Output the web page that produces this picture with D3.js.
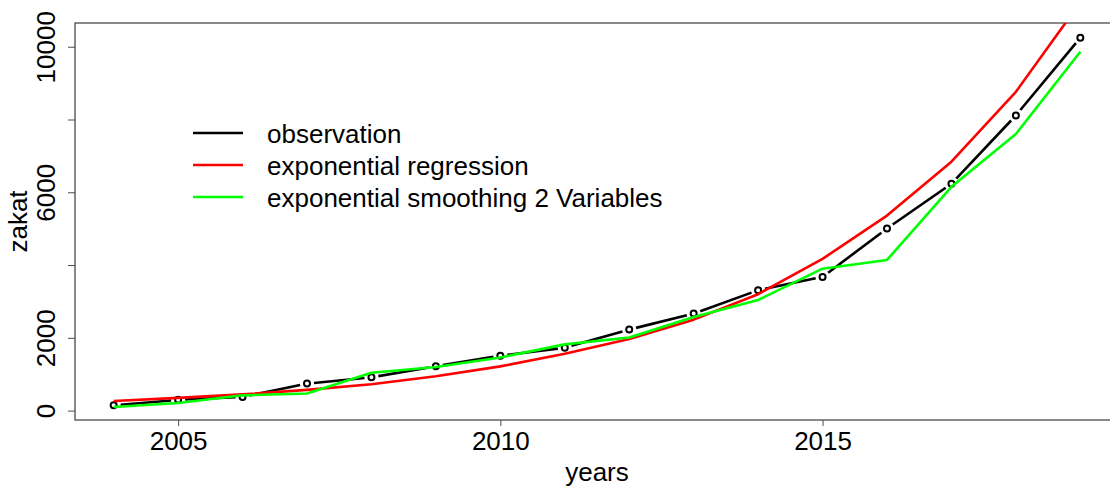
<!DOCTYPE html>
<html>
<head>
<meta charset="utf-8">
<script src="https://cdn.jsdelivr.net/npm/d3@7"></script>
<style>
  html, body { margin: 0; padding: 0; background: #fff; }
  svg { display: block; font-family: "Liberation Sans", Arial, sans-serif; }
</style>
</head>
<body>
<svg id="chart" width="1110" height="488"></svg>
<script>
// Annual zakat collections and two fitted series
const years = [2004, 2005, 2006, 2007, 2008, 2009, 2010, 2011, 2012, 2013, 2014, 2015, 2016, 2017, 2018, 2019];
const observation = [146, 295, 374, 742, 915, 1218, 1510, 1728, 2227, 2667, 3308, 3675, 5005, 6233, 8113, 10248];
const expRegression = [265, 350, 445, 570, 725, 945, 1215, 1560, 1970, 2500, 3200, 4170, 5360, 6840, 8760, 11220];
const expSmoothing = [100, 210, 420, 470, 1040, 1200, 1460, 1820, 2010, 2570, 3040, 3900, 4140, 6150, 7600, 9860];

const xTicks = [2005, 2010, 2015];
const yTicks = [0, 2000, 4000, 6000, 8000, 10000];
const yTickLabels = ["0", "2000", "", "6000", "", "10000"];

const legendLabels = ["observation", "exponential regression", "exponential smoothing 2 Variables"];
const seriesColors = ["#000000", "#ff0000", "#00ff00"];

const svg = d3.select("#chart");
const plot = { left: 75, right: 1119, top: 23, bottom: 420 };

// R-style 4% padding around the data range
const xExt = d3.extent(years);
const xPad = (xExt[1] - xExt[0]) * 0.04;
const yExt = d3.extent(observation);
const yPad = (yExt[1] - yExt[0]) * 0.04;

const x = d3.scaleLinear().domain([xExt[0] - xPad, xExt[1] + xPad]).range([plot.left, plot.right]);
const y = d3.scaleLinear().domain([yExt[0] - yPad, yExt[1] + yPad]).range([plot.bottom, plot.top]);

svg.append("defs").append("clipPath").attr("id", "plotClip")
  .append("rect")
  .attr("x", plot.left).attr("y", plot.top)
  .attr("width", plot.right - plot.left).attr("height", plot.bottom - plot.top);

const axisColor = "#4a4a4a";

// Axes
const xAxis = svg.append("g")
  .attr("transform", `translate(0,${plot.bottom})`)
  .call(d3.axisBottom(x).tickValues(xTicks).tickFormat(d3.format("d")).tickSize(6).tickPadding(6));
xAxis.select(".domain").remove();
xAxis.selectAll("line").attr("stroke", axisColor);
xAxis.selectAll("text").attr("font-size", 26).attr("fill", "#000")
  .attr("font-family", "Liberation Sans, Arial, sans-serif");

const yAxis = svg.append("g")
  .attr("transform", `translate(${plot.left},0)`)
  .call(d3.axisLeft(y).tickValues(yTicks).tickFormat((d, i) => yTickLabels[i]).tickSize(7));
yAxis.select(".domain").remove();
yAxis.selectAll("line").attr("stroke", axisColor);
yAxis.selectAll("text")
  .attr("font-size", 26).attr("fill", "#000")
  .attr("font-family", "Liberation Sans, Arial, sans-serif")
  .attr("text-anchor", "middle")
  .attr("dy", 0)
  .attr("x", 0).attr("y", 0)
  .attr("transform", "translate(-20.5,0) rotate(-90)");

// Plot frame
svg.append("rect")
  .attr("x", plot.left).attr("y", plot.top)
  .attr("width", plot.right - plot.left).attr("height", plot.bottom - plot.top)
  .attr("fill", "none").attr("stroke", axisColor).attr("stroke-width", 1.3);

// Axis titles
svg.append("text")
  .attr("x", (plot.left + plot.right) / 2).attr("y", 481)
  .attr("text-anchor", "middle").attr("font-size", 26).text("years");
svg.append("text")
  .attr("transform", `translate(27,${(plot.top + plot.bottom) / 2}) rotate(-90)`)
  .attr("text-anchor", "middle").attr("font-size", 26).text("zakat");

const g = svg.append("g").attr("clip-path", "url(#plotClip)");

// Observation: lines with gaps around open circles (type "b")
const obsPts = years.map((yr, i) => [x(yr), y(observation[i])]);
const gap = 7;
const segs = d3.pairs(obsPts).map(([a, b]) => {
  const dx = b[0] - a[0], dy = b[1] - a[1];
  const len = Math.hypot(dx, dy);
  const ux = dx / len, uy = dy / len;
  return [[a[0] + ux * gap, a[1] + uy * gap], [b[0] - ux * gap, b[1] - uy * gap]];
});
g.selectAll("path.obs").data(segs).join("path")
  .attr("class", "obs")
  .attr("d", d => d3.line()(d))
  .attr("stroke", seriesColors[0]).attr("stroke-width", 2.6).attr("fill", "none");
g.selectAll("circle.obs").data(obsPts).join("circle")
  .attr("class", "obs")
  .attr("cx", d => d[0]).attr("cy", d => d[1]).attr("r", 3)
  .attr("fill", "none").attr("stroke", "#000").attr("stroke-width", 2);

const line = d3.line().x((d, i) => x(years[i])).y(d => y(d));
g.append("path").datum(expRegression).attr("d", line)
  .attr("fill", "none").attr("stroke", seriesColors[1]).attr("stroke-width", 2.6)
  .attr("stroke-linejoin", "round");
g.append("path").datum(expSmoothing).attr("d", line)
  .attr("fill", "none").attr("stroke", seriesColors[2]).attr("stroke-width", 2.6)
  .attr("stroke-linejoin", "round");

// Legend
const legend = svg.append("g").attr("transform", "translate(193,133)");
legendLabels.forEach((lab, i) => {
  const row = legend.append("g").attr("transform", `translate(0,${i * 32})`);
  row.append("line").attr("x1", 0).attr("x2", 50).attr("y1", 0).attr("y2", 0)
    .attr("stroke", seriesColors[i]).attr("stroke-width", 2.6);
  row.append("text").attr("x", 74).attr("y", 10).attr("font-size", 26).attr("fill", "#000").text(lab);
});
</script>
</body>
</html>
